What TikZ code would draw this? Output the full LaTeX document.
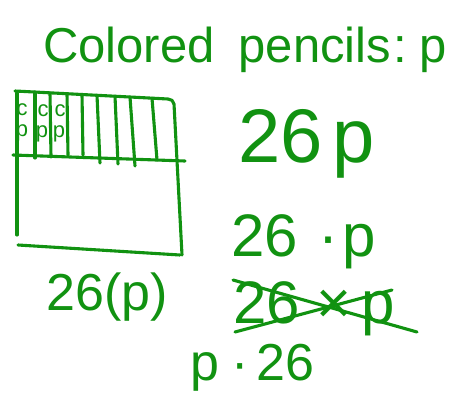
\documentclass[tikz,border=0pt]{standalone}
\usepackage{fontspec}
\setmainfont{Liberation Sans}
\definecolor{pen}{RGB}{17,146,17}
\tikzset{
  ink/.style={draw=pen, line width=3.1pt, line cap=round, line join=round},
  txt/.style={text=pen, inner sep=0pt, anchor=base west},
  small/.style={text=pen, inner sep=0pt, font=\fontsize{22}{22}\selectfont}
}
\begin{document}
\begin{tikzpicture}[x=1pt,y=-1pt]
\useasboundingbox (0,0) rectangle (462,396);
% title
\node[txt, font=\fontsize{49}{49}\selectfont] (title) at (43,62) {Colored\hspace{24pt}pencils\hspace{2pt}:\hspace{13pt}p};
% grid
\draw[ink] (15,91) -- (168,99) to[out=0,in=95] (174,104) -- (182,255);
\draw[ink] (17,93) -- (17,235);
\draw[ink] (13,155) -- (185,161);
\draw[ink] (18,245) -- (180,255);
\foreach \xa/\xb/\yb in {35/35/158, 50/51/157, 67/68/155, 82/83/155, 97/100/163, 115/118/164, 130/135/166, 152/157/160}{
  \pgfmathsetmacro{\yt}{91+(\xa-15)*8/153}
  \draw[ink] (\xa,\yt) -- (\xb,\yb);
}
\node[small] (c1) at (22,110) {c};
\node[small] (c2) at (43,111) {c};
\node[small] (c3) at (60,111) {c};
\node[small] (p1) at (22,133) {p};
\node[small] (p2) at (42,134) {p};
\node[small] (p3) at (59,134) {p};
% expressions
\node[txt, font=\fontsize{52}{52}\selectfont] (e1) at (46,310) {26(p)};
\node[txt, font=\fontsize{76}{76}\selectfont] (e2) at (238,162) {26\hspace{10pt}p};
\node[txt, font=\fontsize{60}{60}\selectfont] (e3) at (231,256) {26\hspace{21pt}·\hspace{4pt}p};
\node[txt, font=\fontsize{60}{60}\selectfont] (e4) at (233,323) {26\hspace{17pt}×\hspace{10pt}p};
\draw[ink] (233,280) -- (417,332);
\draw[ink] (235,332) -- (392,290);
\node[txt, font=\fontsize{52}{52}\selectfont] (e5) at (190,380) {p\hspace{12pt}·\hspace{8pt}26};
\end{tikzpicture}
\end{document}
